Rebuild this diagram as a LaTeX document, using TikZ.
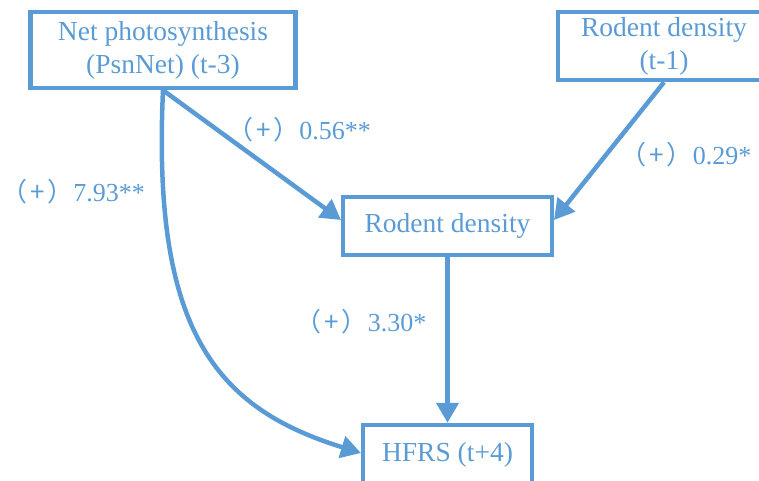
\documentclass[tikz,border=0pt]{standalone}
\usepackage{fontspec}
\setmainfont{Liberation Serif}
\newfontfamily\cjk{Noto Sans CJK SC}
\usetikzlibrary{arrows.meta}
\definecolor{ob}{RGB}{91,155,213}
\newcommand{\plusmark}{{\cjk （\kern3pt+\kern3pt）}}
\tikzset{
  box/.style={draw=ob, line width=4.5pt, text=ob, inner sep=0pt, align=center,
    font=\fontsize{27.5}{33}\selectfont},
  conn/.style={draw=ob, line width=4.5pt, -{Triangle[length=20pt,width=22pt]}},
  lab/.style={text=ob, inner sep=0pt, font=\fontsize{26}{30}\selectfont}
}
\begin{document}
\begin{tikzpicture}[x=1pt,y=-1pt]
\useasboundingbox (0,0) rectangle (759,481);
\node[box, minimum width=265pt, minimum height=76pt] (net) at (163,50) {Net photosynthesis\\(PsnNet) (t-3)};
\node[box, minimum width=212pt, minimum height=68pt] (rt1) at (664,46) {Rodent density\\(t-1)};
\node[box, minimum width=209pt, minimum height=58pt] (mid) at (447.5,226) {Rodent density};
\node[box, minimum width=169pt, minimum height=60pt] (hfrs) at (447.5,455) {HFRS (t+4)};
\coordinate (t1) at (341,220);
\coordinate (t2) at (554,220);
\coordinate (t4) at (361,453);
\draw[conn] (net.south) -- (t1);
\draw[conn] (rt1.south) -- (t2);
\draw[conn] (mid.south) -- (hfrs.north);
\draw[conn] (net.south) .. controls (152,330) and (215,408) .. (t4);
\node[lab] (l1) at (73,192) {\plusmark7.93**};
\node[lab] (l2) at (299,130) {\plusmark0.56**};
\node[lab] (l3) at (686,155) {\plusmark0.29*};
\node[lab] (l4) at (361,322) {\plusmark3.30*};
\end{tikzpicture}
\end{document}
